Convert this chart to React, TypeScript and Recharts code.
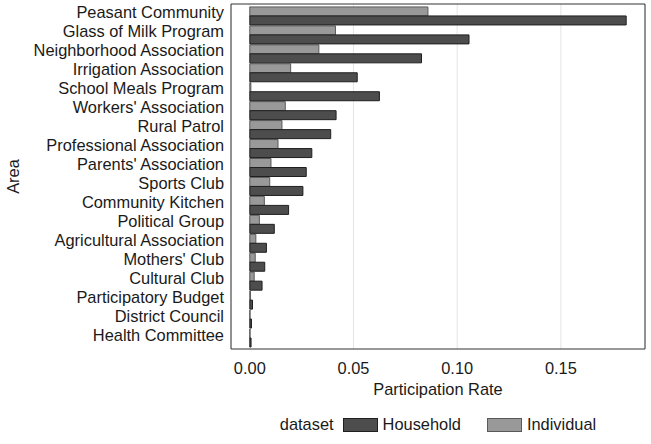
import React from "react";
import {
  BarChart,
  Bar,
  XAxis,
  YAxis,
  CartesianGrid,
  Legend,
} from "recharts";

// Participation rate by area, for households and individuals
const areas = [
  "Peasant Community",
  "Glass of Milk Program",
  "Neighborhood Association",
  "Irrigation Association",
  "School Meals Program",
  "Workers' Association",
  "Rural Patrol",
  "Professional Association",
  "Parents' Association",
  "Sports Club",
  "Community Kitchen",
  "Political Group",
  "Agricultural Association",
  "Mothers' Club",
  "Cultural Club",
  "Participatory Budget",
  "District Council",
  "Health Committee",
];

const household = [
  0.1815, 0.1057, 0.0828, 0.0518, 0.0625, 0.0416, 0.039, 0.0299, 0.0272,
  0.0256, 0.0187, 0.0118, 0.008, 0.0072, 0.0059, 0.0013, 0.0008, 0.0006,
];

const individual = [
  0.0859, 0.0413, 0.0333, 0.0197, 0.0005, 0.0171, 0.0155, 0.0136, 0.0102,
  0.0096, 0.007, 0.0046, 0.0029, 0.0026, 0.0021, 0.0003, 0.0001, 0.0001,
];

const xTicks = [0, 0.05, 0.1, 0.15];

const legendOrder = [
  { key: "household", label: "Household", fill: "#4d4d4d", stroke: "#1f1f1f" },
  { key: "individual", label: "Individual", fill: "#999999", stroke: "#5a5a5a" },
];

const data = areas.map((area, i) => ({
  area,
  household: household[i],
  individual: individual[i],
}));

// ggplot-style 5% expansion on a continuous axis
const maxVal = Math.max(...household, ...individual);
const pad = maxVal * 0.05;
const xDomain = [-pad, maxVal + pad];

const FONT = "'Liberation Sans', Arial, Helvetica, sans-serif";
const TEXT = "#1a1a1a";
const FS = 16.4;

const AreaTick = (props: any) => {
  const { x, y, payload } = props;
  return (
    <text
      x={x}
      y={y}
      dy={3}
      textAnchor="end"
      fontSize={FS}
      fill={TEXT}
      fontFamily={FONT}
    >
      {payload.value}
    </text>
  );
};

const renderLegend = () => (
  <div
    style={{
      height: 39,
      boxSizing: "border-box",
      paddingLeft: 231,
      display: "flex",
      justifyContent: "center",
      alignItems: "center",
      fontFamily: FONT,
      fontSize: FS,
      color: TEXT,
      lineHeight: "normal",
    }}
  >
    <span style={{ marginRight: 9 }}>dataset</span>
    {legendOrder.map((s, i) => (
      <span
        key={s.key}
        style={{
          display: "flex",
          alignItems: "center",
          marginLeft: i === 0 ? 0 : 26,
        }}
      >
        <span
          style={{
            display: "inline-block",
            width: 35,
            height: 14,
            boxSizing: "border-box",
            background: s.fill,
            border: `1px solid ${s.stroke}`,
            marginRight: 5,
          }}
        />
        <span>{s.label}</span>
      </span>
    ))}
  </div>
);

// Panel frame drawn along the edges of the plotting area
const frameH = (p: any) =>
  p && p.offset ? [p.offset.top, p.offset.top + p.offset.height] : [];
const frameV = (p: any) =>
  p && p.offset ? [p.offset.left, p.offset.left + p.offset.width] : [];

export default function App() {
  return (
    <div style={{ width: 651, height: 444, fontFamily: FONT }}>
      <style>{`body{margin:0}`}</style>
      <BarChart
        width={651}
        height={444}
        data={data}
        layout="vertical"
        margin={{ top: 4, right: 6, bottom: 0, left: 0 }}
        barCategoryGap="5%"
        barGap={0}
      >
        <CartesianGrid
          horizontal={false}
          stroke="#e6e6e6"
          strokeWidth={1.1}
        />
        <CartesianGrid
          stroke="#333333"
          strokeWidth={1}
          horizontalCoordinatesGenerator={frameH}
          verticalCoordinatesGenerator={frameV}
        />
        <XAxis
          type="number"
          domain={xDomain}
          ticks={xTicks}
          allowDataOverflow
          tickFormatter={(v: number) => v.toFixed(2)}
          axisLine={false}
          tickLine={false}
          tickSize={0}
          tickMargin={13}
          height={56}
          tick={{ fontSize: FS, fill: TEXT, fontFamily: FONT }}
          label={{
            value: "Participation Rate",
            position: "insideBottom",
            offset: 10,
            fontSize: FS,
            fill: TEXT,
            fontFamily: FONT,
          }}
        />
        <YAxis
          type="category"
          dataKey="area"
          width={231}
          interval={0}
          axisLine={false}
          tickLine={false}
          tickSize={0}
          tickMargin={7}
          padding={{ top: 2, bottom: 2 }}
          tick={<AreaTick />}
          label={{
            value: "Area",
            angle: -90,
            position: "insideLeft",
            offset: 13,
            fontSize: FS,
            fill: TEXT,
            fontFamily: FONT,
            style: { textAnchor: "middle" },
          }}
        />
        <Bar
          dataKey="individual"
          name="Individual"
          fill="#999999"
          stroke="#5a5a5a"
          strokeWidth={1}
          isAnimationActive={false}
        />
        <Bar
          dataKey="household"
          name="Household"
          fill="#4d4d4d"
          stroke="#1f1f1f"
          strokeWidth={1}
          isAnimationActive={false}
        />
        <Legend verticalAlign="bottom" height={39} content={renderLegend} />
      </BarChart>
    </div>
  );
}
